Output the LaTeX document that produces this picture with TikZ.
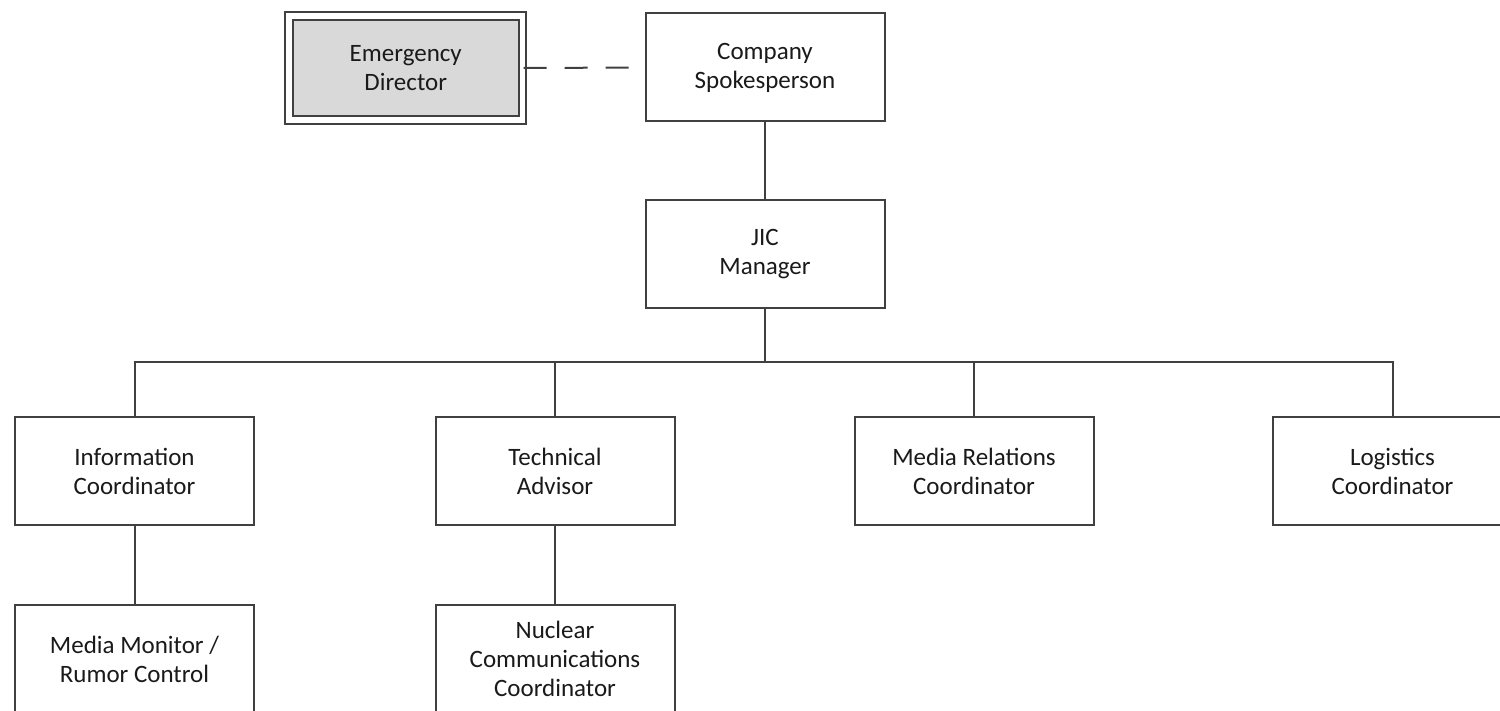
\documentclass[tikz,border=0pt]{standalone}
\usepackage{fontspec}
\setmainfont{Carlito}
\begin{document}
\begin{tikzpicture}[x=0.5pt,y=-0.5pt,
  box/.style={draw=boxline, line width=1pt, fill=white, align=center,
    minimum width=119.5pt, minimum height=54pt, inner sep=0pt,
    font=\fontsize{12.5}{14.5}\selectfont, text=textcol},
  lead/.style={box, fill=leadfill, double=white, double distance=2.6pt,
    minimum width=116.75pt, minimum height=52pt},
  link/.style={draw=boxline, line width=1pt},
]
\definecolor{boxline}{HTML}{404040}
\definecolor{textcol}{HTML}{1A1A1A}
\definecolor{leadfill}{HTML}{D9D9D9}
\useasboundingbox (0,0) rectangle (1500,711);

% top row
\node[lead] (ed)  at (405.75,68) {Emergency\\Director};
\node[box]  (cs)  at (765,67.5)  {Company\\Spokesperson};
\node[box]  (jic) at (765,254)   {JIC\\Manager};

% second row
\node[box] (info) at (134.5,471)  {Information\\Coordinator};
\node[box] (tech) at (555,471)    {Technical\\Advisor};
\node[box] (mr)   at (974,471)    {Media Relations\\Coordinator};
\node[box] (log)  at (1392.5,471) {Logistics\\Coordinator};

% third row
\node[box] (mm)  at (134.5,659) {Media Monitor /\\Rumor Control};
\node[box] (ncc) at (555,659)   {Nuclear\\Communications\\Coordinator};

% connectors
\draw[link, dash pattern=on 11.5pt off 9pt] (ed.east) -- (cs.west);
\draw[link] (cs.south) -- (jic.north);
\coordinate (bus) at (765,362);
\draw[link] (jic.south) -- (bus);
\foreach \c in {info,tech,mr,log}
  \draw[link] (bus) -| (\c.north);
\draw[link] (info.south) -- (mm.north);
\draw[link] (tech.south) -- (ncc.north);
\end{tikzpicture}
\end{document}
